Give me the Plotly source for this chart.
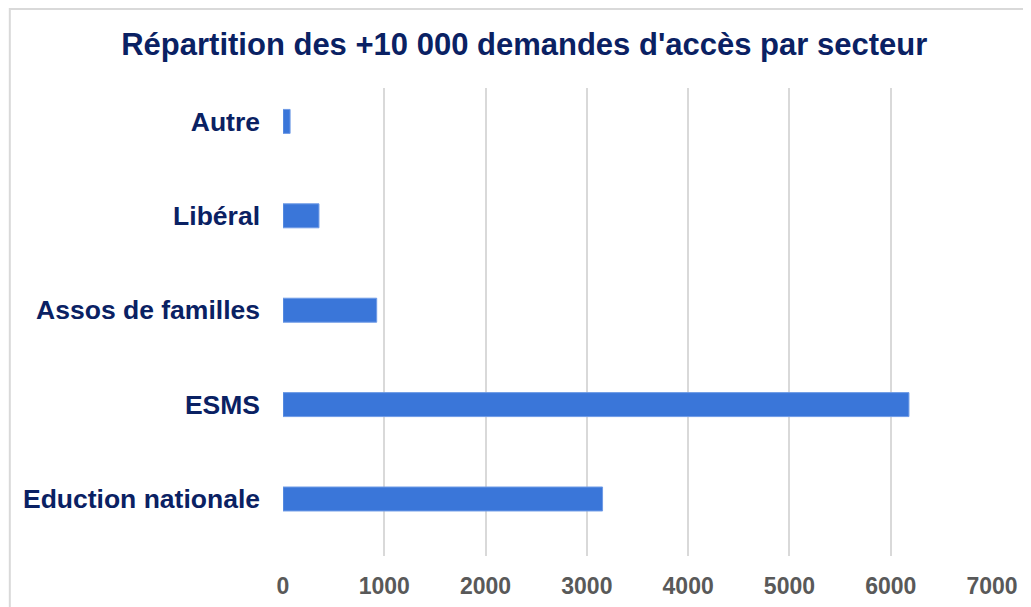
import plotly.graph_objects as go

categories = ["Eduction nationale", "ESMS", "Assos de familles", "Libéral", "Autre"]
values = [3155, 6180, 925, 355, 70]
x_ticks = [0, 1000, 2000, 3000, 4000, 5000, 6000, 7000]
title = "Répartition des +10 000 demandes d'accès par secteur"

W, H = 1031, 607
OFF = 8  # default page body margin
L, R = 282.5 - OFF, 992.3 - OFF
T, B = 88 - OFF, 556 - OFF

fig = go.Figure(go.Bar(
    x=values, y=list(range(len(categories))), orientation="h",
    marker=dict(color="#3A76D9", line=dict(color="#6F9BE6", width=1)),
    hoverinfo="skip",
))

def px_to_paper_x(px):
    return (px - OFF - L) / (R - L)

def px_to_paper_y(py):
    return (B - (py - OFF)) / (B - T)

FONT = "Liberation Sans, Arial, sans-serif"

fig.update_layout(
    width=W, height=H,
    margin=dict(l=L, r=W - R, t=T, b=H - B, autoexpand=False),
    paper_bgcolor="white", plot_bgcolor="white",
    bargap=0.746,
    showlegend=False,
    title=dict(text=title, x=px_to_paper_x(524), xref="paper", y=1 - (44 - OFF) / H, yref="container",
               xanchor="center", yanchor="middle",
               font=dict(family=FONT, size=31, color="#0A2163", weight="bold")),
    xaxis=dict(range=[0, 7000], tickvals=x_ticks, ticktext=[str(v) for v in x_ticks],
               showgrid=True, gridcolor="#D9D9D9", gridwidth=2, zeroline=False, showline=False,
               ticks="", ticklabelstandoff=14,
               tickfont=dict(family=FONT, size=23, color="#595959", weight="bold")),
    yaxis=dict(range=[-0.604, 4.354], tickvals=list(range(len(categories))), ticktext=categories,
               showgrid=False, zeroline=False, showline=False, ticks="", ticklabelstandoff=22,
               tickfont=dict(family=FONT, size=26.5, color="#0A2163", weight="bold")),
    shapes=[dict(type="rect", xref="paper", yref="paper",
                 x0=px_to_paper_x(9), x1=px_to_paper_x(1045),
                 y0=px_to_paper_y(620), y1=px_to_paper_y(9),
                 line=dict(color="#D9D9D9", width=2), fillcolor="rgba(0,0,0,0)", layer="below")],
)

fig.write_html("out.html")
